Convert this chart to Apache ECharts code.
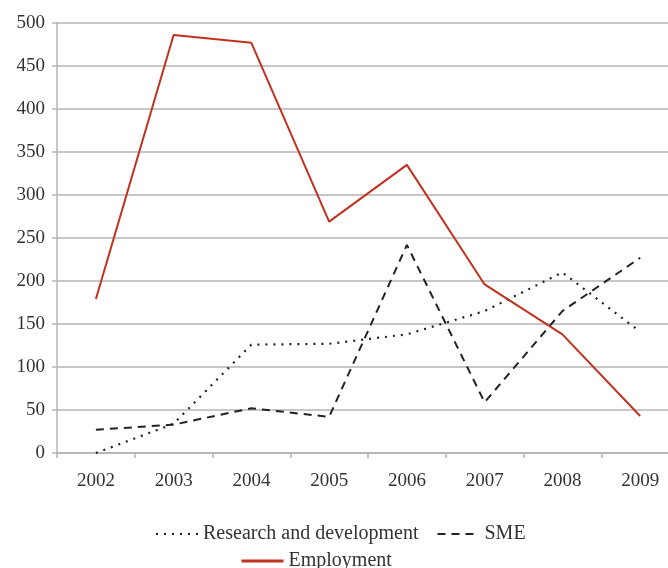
<!DOCTYPE html>
<html>
<head>
<meta charset="utf-8">
<script src="https://cdn.jsdelivr.net/npm/echarts@6/dist/echarts.min.js"></script>
<style>
  html, body { margin: 0; padding: 0; background: #fff; }
  #chart { width: 668px; height: 568px; }
</style>
</head>
<body>
<div id="chart"></div>
<script>
const years = ["2002", "2003", "2004", "2005", "2006", "2007", "2008", "2009"];
const research = [0, 34, 126, 127, 138, 165, 210, 141];
const sme = [27, 33, 52, 42, 242, 59, 165, 227];
const employment = [179, 486, 477, 269, 335, 196, 138, 43];

const font = "Liberation Serif";
const gridGray = "#b4b4b4";

const chart = echarts.init(document.getElementById("chart"));
chart.setOption({
  animation: false,
  textStyle: { fontFamily: font },
  grid: { left: 57, right: -11, top: 23, bottom: 115, outerBoundsMode: "none", containLabel: false },
  legend: [
    {
      data: ["Research and development", "SME"],
      left: 150,
      top: 519,
      itemWidth: 42,
      itemHeight: 14,
      itemGap: 18,
      itemStyle: { opacity: 0 },
      textStyle: { fontFamily: font, fontSize: 20, color: "#333" }
    },
    {
      data: ["Employment"],
      left: 235,
      top: 546,
      itemWidth: 42,
      itemHeight: 14,
      itemStyle: { opacity: 0 },
      lineStyle: { width: 3 },
      textStyle: { fontFamily: font, fontSize: 20, color: "#333" }
    }
  ],
  xAxis: {
    type: "category",
    data: years,
    boundaryGap: true,
    axisLine: { lineStyle: { color: gridGray, width: 1.5 } },
    axisTick: { show: true, length: 5, lineStyle: { color: gridGray, width: 1.5 } },
    axisLabel: { margin: 19, fontSize: 19, color: "#333", fontFamily: font }
  },
  yAxis: {
    type: "value",
    min: 0,
    max: 500,
    interval: 50,
    axisLine: { show: true, lineStyle: { color: gridGray, width: 1.5 } },
    axisTick: { show: true, length: 5, lineStyle: { color: gridGray, width: 1.5 } },
    axisLabel: { margin: 12, fontSize: 19, color: "#333", fontFamily: font },
    splitLine: { lineStyle: { color: gridGray, width: 1.5 } }
  },
  series: [
    {
      name: "Research and development",
      type: "line",
      data: research,
      symbol: "none",
      lineStyle: { color: "#222", width: 2.2, type: [2, 6] },
      itemStyle: { color: "#222" }
    },
    {
      name: "SME",
      type: "line",
      data: sme,
      symbol: "none",
      lineStyle: { color: "#222", width: 2, type: [8, 6] },
      itemStyle: { color: "#222" }
    },
    {
      name: "Employment",
      type: "line",
      data: employment,
      symbol: "none",
      lineStyle: { color: "#c0321f", width: 2 },
      itemStyle: { color: "#c0321f" }
    }
  ]
});
</script>
</body>
</html>
